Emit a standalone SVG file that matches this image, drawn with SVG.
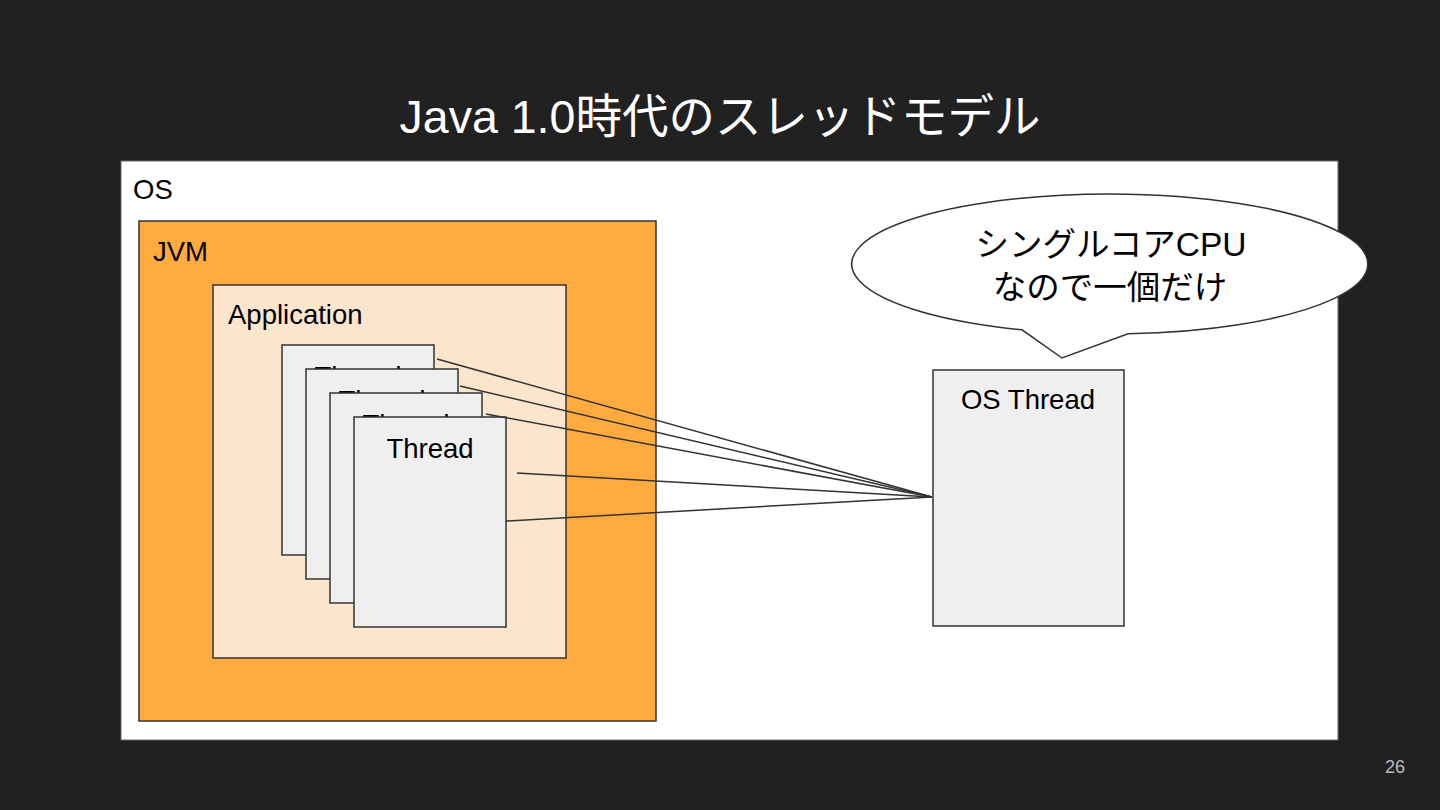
<svg xmlns="http://www.w3.org/2000/svg" width="1440" height="810" viewBox="0 0 1440 810">
<style>
text{font-family:"Liberation Sans","Noto Sans CJK JP",Arial,sans-serif;}
.lbl{font-size:27.5px;fill:#000;}
.card{fill:#efefef;stroke:#333;stroke-width:1.5;}
.conn{stroke:#333;stroke-width:1.5;fill:none;}
</style>
<rect x="0" y="0" width="1440" height="810" fill="#212121"/>
<text x="720" y="133" font-size="46.5" fill="#fff" text-anchor="middle">Java 1.0時代のスレッドモデル</text>
<g id="os">
<rect x="121" y="161" width="1217" height="579" fill="#fff" stroke="#666" stroke-width="1"/>
<text class="lbl" x="133" y="199">OS</text>
</g>
<g id="jvm">
<rect x="139" y="221" width="517" height="500" fill="#ffab40" stroke="#333" stroke-width="1.5"/>
<text class="lbl" x="153" y="261">JVM</text>
</g>
<g id="application">
<rect x="213" y="285" width="353" height="373" fill="#fce5cd" stroke="#333" stroke-width="1.5"/>
<text class="lbl" x="228" y="324">Application</text>
</g>
<g id="thread1">
<rect class="card" x="282" y="345" width="152" height="210"/>
<text class="lbl" x="358" y="386" text-anchor="middle">Thread</text>
</g>
<g id="thread2">
<rect class="card" x="306" y="369" width="152" height="210"/>
<text class="lbl" x="382" y="410" text-anchor="middle">Thread</text>
</g>
<g id="thread3">
<rect class="card" x="330" y="393" width="152" height="210"/>
<text class="lbl" x="406" y="434" text-anchor="middle">Thread</text>
</g>
<g id="thread4">
<rect class="card" x="354" y="417" width="152" height="210"/>
<text class="lbl" x="430" y="458" text-anchor="middle">Thread</text>
</g>
<g id="osthread">
<rect class="card" x="933" y="370" width="191" height="256"/>
<text class="lbl" x="1028" y="409" text-anchor="middle">OS Thread</text>
</g>
<g id="connectors">
<line class="conn" x1="437" y1="359" x2="932" y2="497"/>
<line class="conn" x1="460" y1="386" x2="932" y2="497"/>
<line class="conn" x1="486" y1="414" x2="932" y2="497"/>
<line class="conn" x1="517" y1="473" x2="932" y2="497"/>
<line class="conn" x1="506" y1="521" x2="932" y2="497"/>
</g>
<g id="balloon">
<path d="M1022,329.8 A258,70 0 1 1 1128,333.8 L1062,358 Z" fill="#fff" stroke="#333" stroke-width="1.5"/>
<text x="1111" y="256" font-size="33.5" fill="#000" text-anchor="middle">シングルコアCPU</text>
<text x="1110" y="299" font-size="33.5" fill="#000" text-anchor="middle">なので一個だけ</text>
</g>
<text x="1395" y="773" font-size="18" fill="#bbb" text-anchor="middle">26</text>
</svg>
